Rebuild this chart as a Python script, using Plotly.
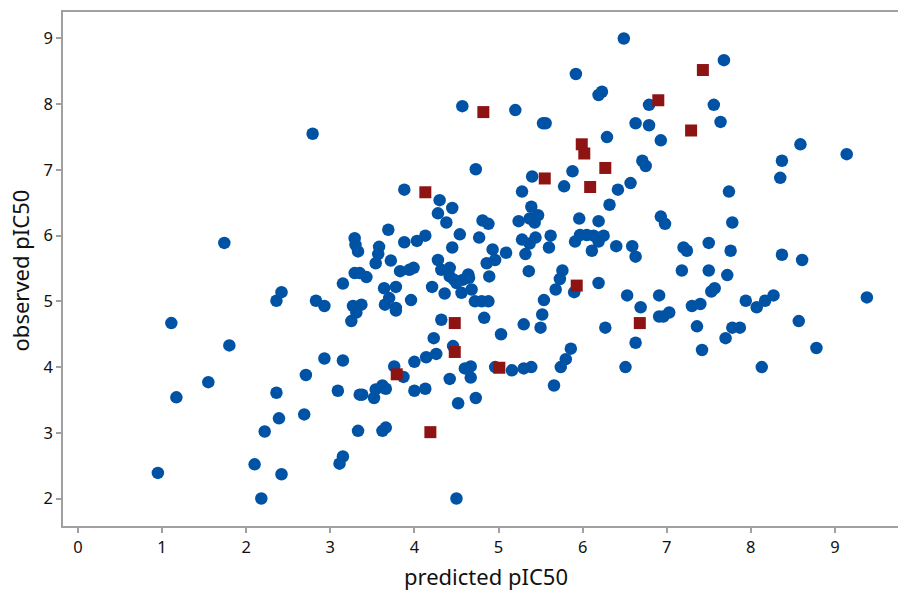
import plotly.graph_objects as go

# Training set (blue circles): predicted vs observed pIC50
train_pred = [
    0.95, 1.11, 1.17, 1.55, 1.74, 1.80, 2.10, 2.18, 2.22, 2.36, 2.42, 2.36, 2.39, 2.42, 2.79, 2.83, 2.93,
    2.71, 2.69, 2.93, 3.15, 3.15, 3.09, 3.15, 3.11,
    5.92, 6.23, 6.19, 4.57, 5.20, 5.53, 5.56, 6.29, 4.73, 5.88, 5.40, 5.78, 5.28, 3.88, 4.30, 4.45, 4.28,
    4.38, 5.39, 6.32, 3.69, 4.81, 4.88, 5.24, 5.37, 5.47, 5.43, 5.96, 6.19,
    3.29, 3.30, 3.33, 3.58, 3.57, 3.54, 3.88, 4.03, 4.13, 4.54, 4.77, 4.45, 4.93, 5.09, 5.28, 5.37, 5.44,
    5.62, 5.60, 5.32, 5.91, 5.97, 6.05, 6.13, 6.19, 6.25, 6.11, 3.72, 4.28, 4.86, 4.96,
    3.83, 3.94, 3.99, 3.29, 3.35, 3.43, 3.64, 3.78, 4.21, 4.32, 4.42, 4.42, 4.47, 4.50, 4.58, 4.64, 4.65,
    4.36, 3.27, 3.37, 3.65, 3.70, 3.78, 3.96,
    3.31, 3.25, 3.78, 4.32, 4.23, 4.46, 3.76, 3.87, 4.00, 4.14, 4.26, 4.42, 3.35, 3.38, 3.52, 3.54, 3.62,
    3.66, 4.00, 4.13, 4.52, 3.33, 3.62, 3.66,
    6.42, 6.40, 5.36, 5.76, 5.73, 5.68, 5.90, 6.19, 5.54, 4.89, 4.56, 4.68, 4.72, 4.80, 4.88,
    4.83, 5.30, 5.52, 5.50, 6.27, 5.03, 5.86, 5.80, 5.74, 4.60, 4.67, 4.67, 4.96, 5.16, 5.30, 5.39, 5.66,
    4.73, 4.50, 6.51,
    6.49, 7.68, 6.79, 7.56, 6.63, 6.79, 7.64, 6.93, 8.59, 9.14, 8.37, 8.35, 6.71, 6.75, 6.57, 7.74, 6.93,
    6.98, 7.78, 6.59, 6.63, 7.20, 7.24, 7.50, 7.76, 8.37, 8.61,
    7.18, 7.50, 7.72, 6.53, 6.91, 6.69, 7.57, 7.53, 7.30, 7.40, 6.91, 7.03, 6.96, 7.94, 8.07, 8.17, 8.27,
    9.38, 7.36, 7.78, 7.87, 7.70, 8.57, 6.63, 7.42, 8.78, 8.13,
]
train_obs = [
    2.39, 4.67, 3.54, 3.77, 5.89, 4.33, 2.52, 2.00, 3.02, 5.01, 5.14, 3.61, 3.22, 2.37, 7.55, 5.01, 4.93,
    3.88, 3.28, 4.13, 5.27, 4.10, 3.64, 2.64, 2.53,
    8.46, 8.19, 8.14, 7.97, 7.91, 7.71, 7.71, 7.50, 7.01, 6.98, 6.90, 6.75, 6.67, 6.70, 6.54, 6.42, 6.34,
    6.20, 6.44, 6.47, 6.09, 6.23, 6.18, 6.22, 6.26, 6.31, 6.20, 6.26, 6.22,
    5.96, 5.86, 5.76, 5.83, 5.72, 5.58, 5.90, 5.92, 6.00, 6.02, 5.97, 5.82, 5.79, 5.74, 5.94, 5.88, 5.97,
    6.00, 5.82, 5.72, 5.91, 6.01, 6.01, 6.00, 5.91, 6.00, 5.77, 5.62, 5.63, 5.58, 5.63,
    5.46, 5.48, 5.51, 5.43, 5.43, 5.37, 5.20, 5.22, 5.22, 5.48, 5.51, 5.38, 5.33, 5.28, 5.33, 5.41, 5.36,
    5.12, 4.93, 4.95, 4.95, 5.05, 4.90, 5.02,
    4.83, 4.70, 4.86, 4.72, 4.44, 4.32, 4.01, 3.85, 4.08, 4.15, 4.20, 3.82, 3.58, 3.58, 3.53, 3.66, 3.72,
    3.67, 3.64, 3.67, 3.45, 3.03, 3.03, 3.08,
    6.70, 5.84, 5.46, 5.47, 5.34, 5.18, 5.14, 5.28, 5.02, 5.38, 5.13, 5.18, 5.00, 5.00, 5.00,
    4.75, 4.65, 4.80, 4.60, 4.60, 4.50, 4.28, 4.12, 4.00, 3.98, 4.01, 3.84, 4.00, 3.95, 3.98, 4.00, 3.72,
    3.53, 2.00, 4.00,
    9.00, 8.67, 7.99, 7.99, 7.71, 7.68, 7.73, 7.45, 7.39, 7.24, 7.14, 6.88, 7.14, 7.06, 6.80, 6.67, 6.29,
    6.18, 6.20, 5.84, 5.68, 5.82, 5.77, 5.89, 5.77, 5.71, 5.63,
    5.47, 5.47, 5.40, 5.09, 5.09, 4.91, 5.20, 5.15, 4.93, 4.96, 4.77, 4.83, 4.77, 5.01, 4.91, 5.01, 5.09,
    5.06, 4.62, 4.60, 4.60, 4.44, 4.70, 4.37, 4.26, 4.29, 4.00,
]

# Test set (red squares)
test_pred = [4.82, 5.99, 6.02, 6.27, 5.55, 6.09, 4.13, 4.48, 4.48, 3.79, 4.19, 5.01, 5.93, 6.68, 6.90, 7.43, 7.29]
test_obs = [7.88, 7.39, 7.25, 7.03, 6.87, 6.74, 6.66, 4.67, 4.23, 3.89, 3.01, 3.99, 5.24, 4.67, 8.06, 8.52, 7.60]

x_ticks = [0, 1, 2, 3, 4, 5, 6, 7, 8, 9]
y_ticks = [2, 3, 4, 5, 6, 7, 8, 9]
x_title = "predicted pIC50"
y_title = "observed pIC50"

fig = go.Figure()
fig.add_trace(go.Scatter(
    x=train_pred, y=train_obs, mode="markers",
    marker=dict(symbol="circle", size=12.5, color="#0053A4", line=dict(width=0)),
    showlegend=False,
))
fig.add_trace(go.Scatter(
    x=test_pred, y=test_obs, mode="markers",
    marker=dict(symbol="square", size=12, color="#8E1414", line=dict(width=0)),
    showlegend=False,
))

axis_common = dict(
    showgrid=False, zeroline=False, showline=True, linecolor="#A0A0A0", linewidth=1.5,
    ticks="outside", ticklen=5, tickwidth=1.5, tickcolor="#A0A0A0", automargin=False,
    tickfont=dict(family="Noto Sans", size=16.5, color="#111111"),
)

fig.update_layout(
    width=898, height=590, autosize=False,
    margin=dict(l=63, r=0, t=12, b=64, autoexpand=False),
    plot_bgcolor="white", paper_bgcolor="white",
    font=dict(family="Noto Sans", color="#111111"),
    xaxis=dict(range=[-0.178, 9.75], tickvals=x_ticks, mirror=True, **axis_common),
    yaxis=dict(range=[1.582, 9.403], tickvals=y_ticks, mirror=False, **axis_common),
    annotations=[
        dict(text=x_title, xref="paper", yref="paper", x=0.507, y=-0.097,
             xanchor="center", yanchor="middle", showarrow=False,
             font=dict(family="Noto Sans", size=22, color="#111111")),
        dict(text=y_title, xref="paper", yref="paper", x=-0.051, y=0.498, textangle=-90,
             xanchor="center", yanchor="middle", showarrow=False,
             font=dict(family="Noto Sans", size=22, color="#111111")),
    ],
)

fig.write_html(
    "out.html",
    config={"displayModeBar": False},
    post_script="document.body.style.margin='0';document.body.style.overflow='hidden';",
)
